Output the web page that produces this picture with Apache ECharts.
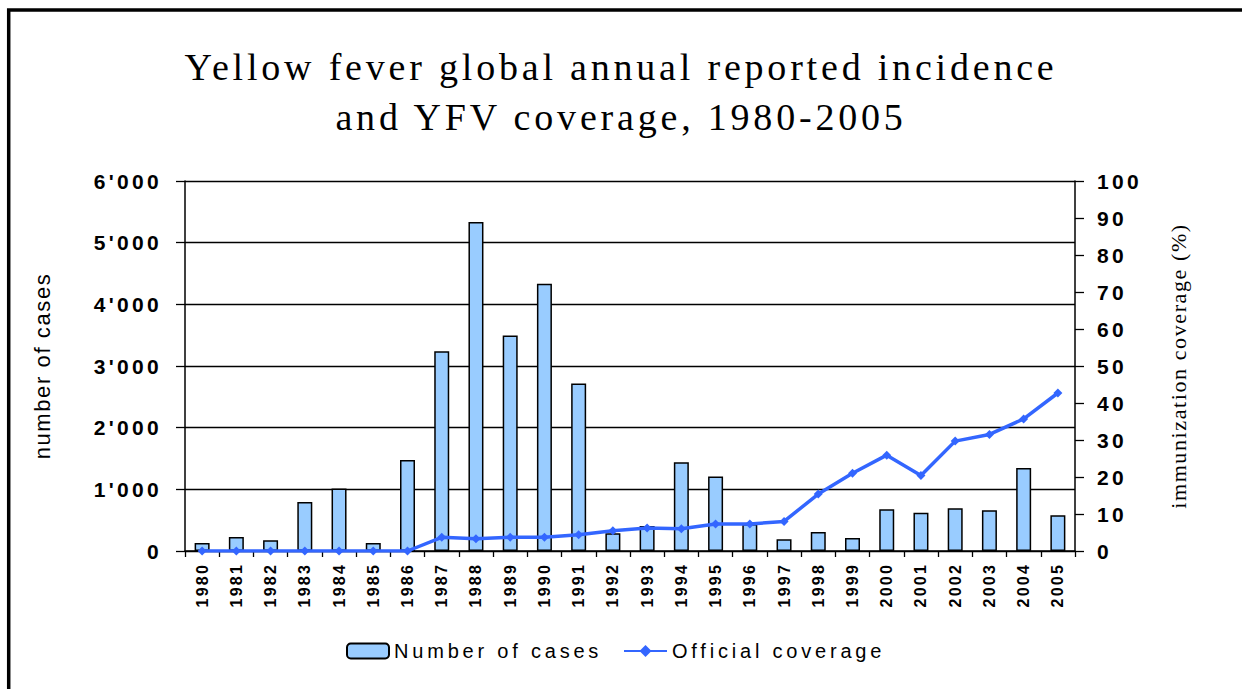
<!DOCTYPE html>
<html><head><meta charset="utf-8">
<script src="https://cdn.jsdelivr.net/npm/echarts@6/dist/echarts.min.js"></script>
<style>
html,body{margin:0;padding:0;background:#fff}
#c{width:1242px;height:689px}
#c text[style*="38px"]{letter-spacing:3.8px}
#c text[style*="22px"]{letter-spacing:1.6px}
#c text[style*="bold"][style*="21px"]{letter-spacing:3.3px}
#c text[style*="20px"]{letter-spacing:3.8px}
#c text[style*="bold"][style*="16px"]{letter-spacing:2.2px}
</style></head>
<body><div id="c"></div>
<script>
const titleLines = ['Yellow fever global annual reported incidence', 'and YFV coverage, 1980-2005'];
const years = ['1980','1981','1982','1983','1984','1985','1986','1987','1988','1989','1990','1991','1992','1993','1994','1995','1996','1997','1998','1999','2000','2001','2002','2003','2004','2005'];
const cases = [130,227,173,795,1012,130,1477,3241,5335,3496,4334,2716,287,406,1439,1207,438,189,308,211,676,622,693,660,1347,579];
const coverage = [0,0,0,0,0,0,0,3.7,3.3,3.7,3.7,4.4,5.5,6.2,6.0,7.3,7.3,8.0,15.4,21.0,25.9,20.4,29.7,31.5,35.7,42.7];
const leftTickLabels = ["0","1'000","2'000","3'000","4'000","5'000","6'000"];
const rightTickLabels = ['0','10','20','30','40','50','60','70','80','90','100'];

const chart = echarts.init(document.getElementById('c'), null, {renderer: 'svg'});
const axisFont = {fontFamily: 'Liberation Sans', fontWeight: 'bold', fontSize: 21, color: '#000'};
chart.setOption({
  animation: false,
  backgroundColor: '#fff',
  graphic: [
    {type: 'rect', silent: true, shape: {x: 8.7, y: 10, width: 1400, height: 900}, style: {fill: 'none', stroke: '#000', lineWidth: 3.5}},
    {type: 'text', x: 621, y: 67, style: {text: titleLines[0], font: '38px "Liberation Serif"', fill: '#000', textAlign: 'center', textVerticalAlign: 'middle'}},
    {type: 'text', x: 621, y: 117, style: {text: titleLines[1], font: '38px "Liberation Serif"', fill: '#000', textAlign: 'center', textVerticalAlign: 'middle'}}
  ],
  grid: {left: 185, right: 167, top: 181, bottom: 138, containLabel: false},
  legend: [
    {left: 346, top: 641, padding: 0, itemWidth: 42, itemHeight: 15, data: ['Number of cases'],
     textStyle: {fontFamily: 'Liberation Sans', fontSize: 20, color: '#000'}},
    {left: 623, top: 641, padding: 0, itemWidth: 43, itemHeight: 15, data: ['Official coverage'],
     textStyle: {fontFamily: 'Liberation Sans', fontSize: 20, color: '#000'}}
  ],
  xAxis: {
    type: 'category', data: years, boundaryGap: true,
    axisLine: {lineStyle: {color: '#000', width: 1.5}},
    axisTick: {show: true, length: 6, inside: false, lineStyle: {color: '#000', width: 1.3}},
    axisLabel: {interval: 0, rotate: 90, margin: 12, fontFamily: 'Liberation Sans', fontWeight: 'bold', fontSize: 16, color: '#000'}
  },
  yAxis: [
    {
      type: 'value', min: 0, max: 6000, interval: 1000, position: 'left',
      name: 'number of cases', nameLocation: 'middle', nameGap: 132,
      nameTextStyle: {fontFamily: 'Liberation Sans', fontSize: 22, color: '#000'},
      axisLine: {show: true, lineStyle: {color: '#000', width: 1.5}},
      axisTick: {show: true, length: 9, lineStyle: {color: '#000', width: 1.3}},
      axisLabel: Object.assign({margin: 23, formatter: v => leftTickLabels[Math.round(v / 1000)]}, axisFont),
      splitLine: {show: true, lineStyle: {color: '#000', width: 1.3}}
    },
    {
      type: 'value', min: 0, max: 100, interval: 10, position: 'right',
      name: 'immunization coverage (%)', nameLocation: 'middle', nameGap: 92,
      nameTextStyle: {fontFamily: 'Liberation Serif', fontSize: 22, color: '#000'},
      axisLine: {show: true, lineStyle: {color: '#000', width: 1.5}},
      axisTick: {show: true, length: 9, lineStyle: {color: '#000', width: 1.3}},
      axisLabel: Object.assign({margin: 22, formatter: v => rightTickLabels[Math.round(v / 10)]}, axisFont),
      splitLine: {show: false}
    }
  ],
  series: [
    {
      name: 'Number of cases', type: 'bar', data: cases, barWidth: 15, yAxisIndex: 0,
      itemStyle: {color: '#99ccff', borderColor: '#000', borderWidth: 1.5}
    },
    {
      name: 'Official coverage', type: 'line', data: coverage, yAxisIndex: 1,
      symbol: 'diamond', symbolSize: 9, showAllSymbol: true,
      lineStyle: {color: '#3366ff', width: 3.5},
      itemStyle: {color: '#3366ff'}
    }
  ]
});
</script></body></html>
